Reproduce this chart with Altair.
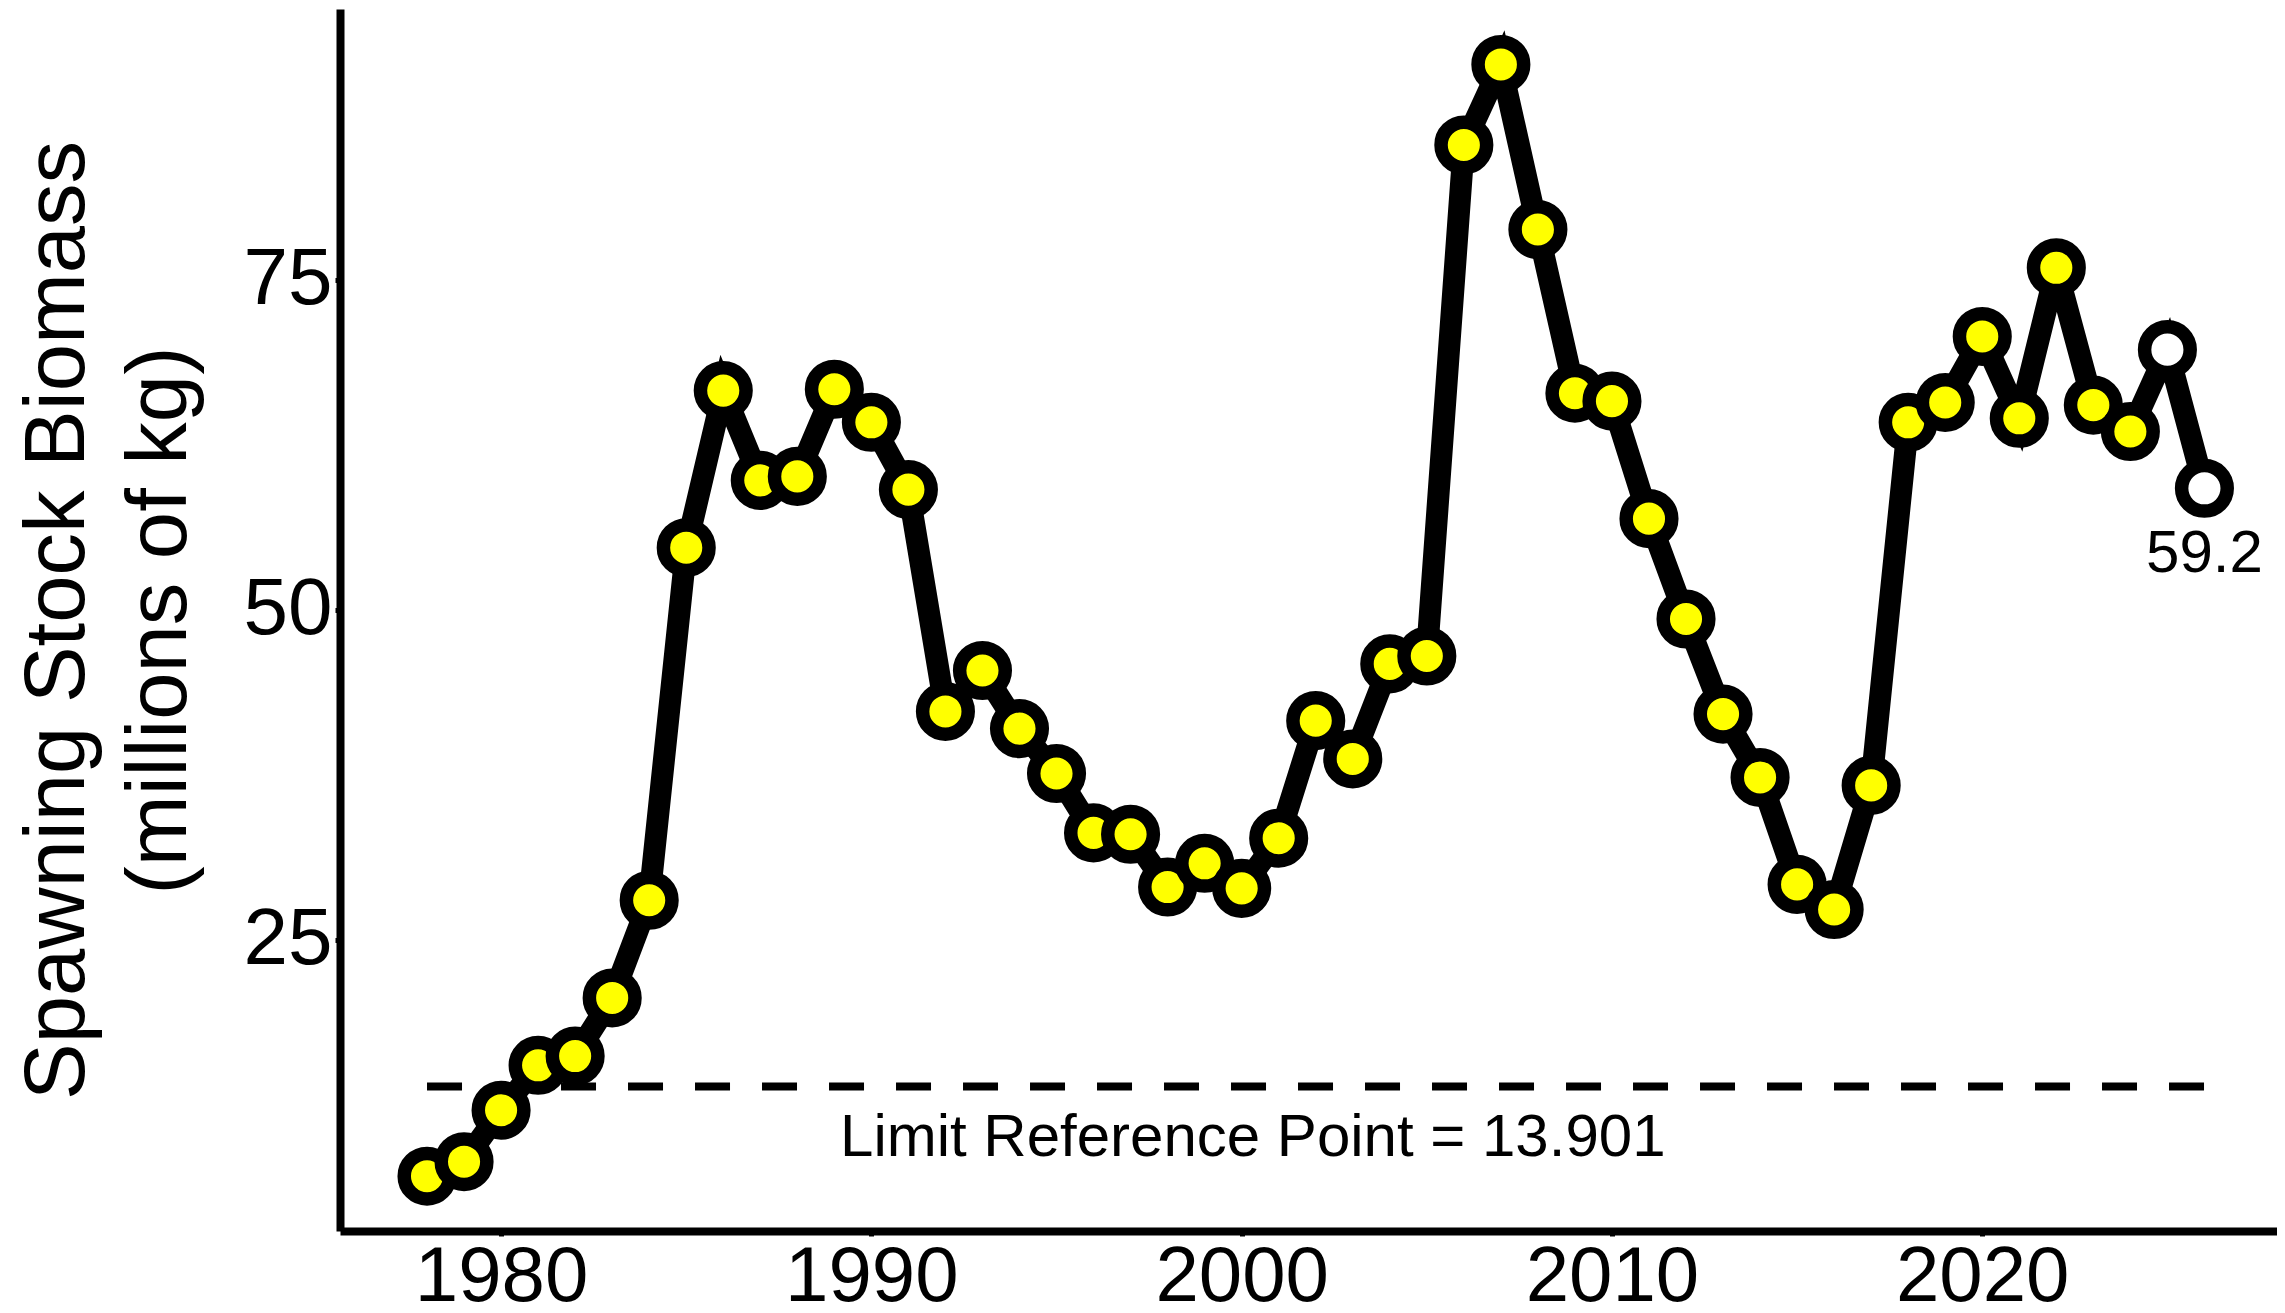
import altair as alt
import pandas as pd

years = list(range(1978, 2027))
ssb = [7.1, 8.2, 12.1, 15.5, 16.2, 20.6, 28.0, 54.7, 66.6, 59.8,
       60.1, 66.7, 64.2, 59.1, 42.3, 45.4, 41.0, 37.6, 33.1, 33.0,
       29.0, 30.8, 28.9, 32.7, 41.6, 38.7, 45.9, 46.5, 85.2, 91.3,
       78.8, 66.4, 65.8, 56.9, 49.3, 42.1, 37.3, 29.2, 27.3, 36.7,
       64.2, 65.7, 70.7, 64.5, 75.9, 65.5, 63.5, 69.7, 59.2]
status = ["assessed"] * 47 + ["projected"] * 2

lrp_value = 13.901
lrp_start, lrp_end = 1978, 2026
lrp_label_year = 2000.3
lrp_text = "Limit Reference Point = 13.901"

x_ticks = [1980, 1990, 2000, 2010, 2020]
y_ticks = [25, 50, 75]

df = pd.DataFrame({"year": years, "ssb": ssb, "status": status})
last = df.tail(1).assign(label=lambda d: d["ssb"].map(lambda v: f"{v:.1f}"))
ref = pd.DataFrame({"x": [lrp_start], "x2": [lrp_end], "y": [lrp_value],
                    "lx": [lrp_label_year], "label": [lrp_text]})

FONT = "Liberation Sans"
xs = alt.Scale(domain=[1975.65, 2027.96], nice=False, zero=False)
ys = alt.Scale(domain=[2.95, 95.5], nice=False, zero=False)

base = alt.Chart(df)

line = base.mark_line(color="black", strokeWidth=22).encode(
    x=alt.X("year:Q", scale=xs,
            axis=alt.Axis(title=None, values=x_ticks, format="d",
                          labelFontSize=78, labelPadding=2)),
    y=alt.Y("ssb:Q", scale=ys,
            axis=alt.Axis(title=["Spawning Stock Biomass", "(millions of kg)"],
                          values=y_ticks, format="d", labelFontSize=80,
                          labelPadding=3,
                          titleFontSize=85, titleFontWeight="normal",
                          titleFont=FONT, titleColor="black",
                          titleAngle=-90, titleAlign="center",
                          titleBaseline="alphabetic", titleLineHeight=102,
                          titleX=-257, titleY=611)),
)

points = base.mark_point(shape="circle", size=2080, stroke="black",
                         strokeWidth=13.5, filled=True, opacity=1).encode(
    x=alt.X("year:Q", scale=xs),
    y=alt.Y("ssb:Q", scale=ys),
    fill=alt.Fill("status:N",
                  scale=alt.Scale(domain=["assessed", "projected"],
                                  range=["#FFFF00", "#FFFFFF"]),
                  legend=None),
)

ref_rule = alt.Chart(ref).mark_rule(color="black", strokeWidth=8,
                                    strokeDash=[35, 32]).encode(
    x=alt.X("x:Q", scale=xs), x2="x2:Q", y=alt.Y("y:Q", scale=ys))

ref_label = alt.Chart(ref).mark_text(font=FONT, fontSize=60, color="black",
                                     baseline="middle", align="center",
                                     dy=52).encode(
    x=alt.X("lx:Q", scale=xs), y=alt.Y("y:Q", scale=ys), text="label:N")

last_label = alt.Chart(last).mark_text(font=FONT, fontSize=60, color="black",
                                       baseline="middle", align="center",
                                       dy=66).encode(
    x=alt.X("year:Q", scale=xs), y=alt.Y("ssb:Q", scale=ys), text="label:N")

chart = alt.layer(ref_rule, ref_label, line, points, last_label).properties(
    width=1937, height=1222,
    autosize=alt.AutoSizeParams(type="none"),
    padding={"left": 332, "top": 1, "right": 0, "bottom": 74},
    background="white",
).configure_view(stroke=None).configure_axis(
    grid=False, domainColor="black", domainWidth=8, tickColor="black",
    tickWidth=5, tickSize=5, labelColor="black", labelFont=FONT,
)

chart.save("out.html", embed_options={"renderer": "svg", "actions": False})
